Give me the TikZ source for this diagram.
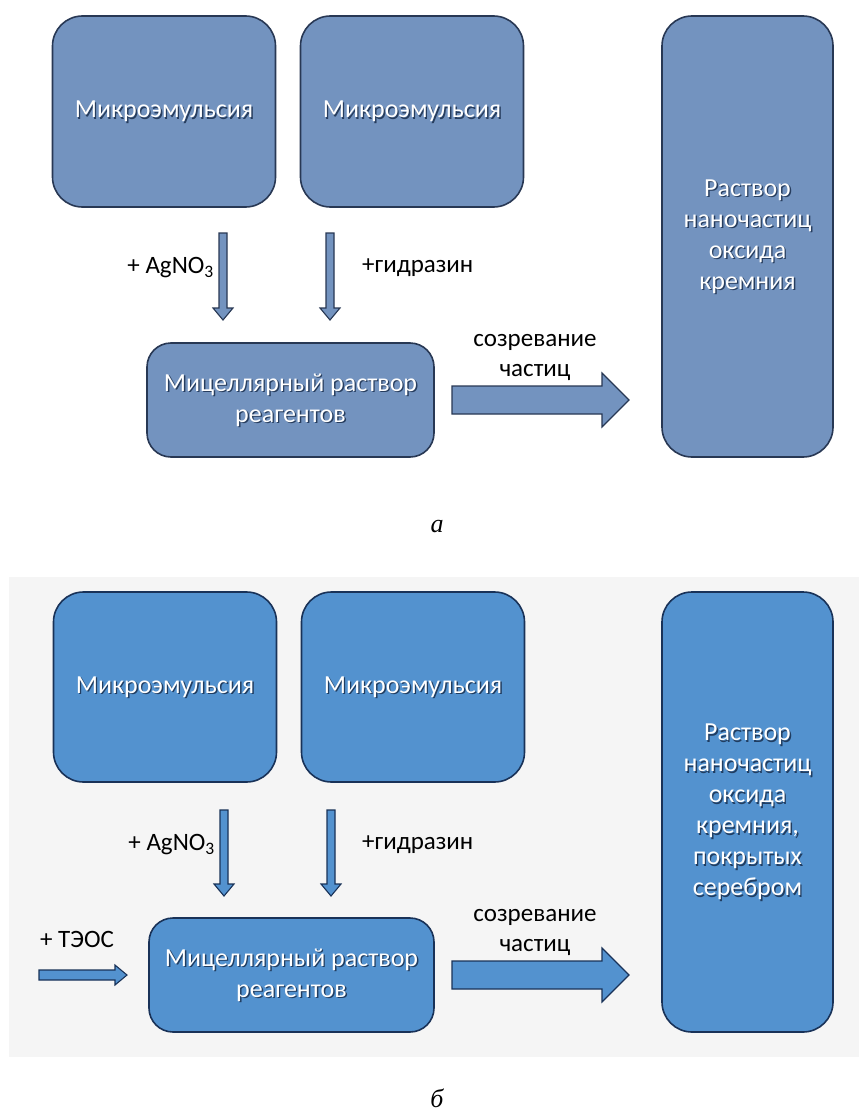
\documentclass[tikz,border=0pt]{standalone}
\usepackage{fontspec}
\setmainfont{Carlito}
\newfontfamily\capfont{Liberation Serif}
\usetikzlibrary{calc}
\definecolor{afill}{RGB}{115,147,191}
\definecolor{adraw}{RGB}{40,56,84}
\definecolor{bfill}{RGB}{83,146,207}
\definecolor{bdraw}{RGB}{25,50,88}
\definecolor{bggray}{RGB}{245,245,245}
\definecolor{shade}{RGB}{20,40,70}
\tikzset{
  boxa/.style={draw=adraw, fill=afill, line width=1.6pt, rounded corners=30pt, inner sep=0pt},
  boxb/.style={draw=bdraw, fill=bfill, line width=1.6pt, rounded corners=30pt, inner sep=0pt},
  wtxt/.style={text=white, font=\fontsize{26}{31}\selectfont, align=center, inner sep=0pt},
  stxt/.style={text=shade, opacity=0.8, font=\fontsize{26}{31}\selectfont, align=center, inner sep=0pt},
  lbl/.style={text=black, font=\fontsize{25}{30}\selectfont, align=center, inner sep=0pt},
  caption/.style={font=\fontsize{26}{30}\selectfont\capfont\itshape, inner sep=0pt},
  arra/.style={draw=adraw, fill=afill, line width=1.1pt, line join=miter},
  arrb/.style={draw=bdraw, fill=bfill, line width=1.1pt, line join=miter},
}
% vertical block arrow: #1 style, #2 x, #3 y top, #4 y tip, #5 shaft half, #6 head half, #7 head length
\newcommand\vblock[7]{\draw[#1] (#2-#5,#3) -- (#2+#5,#3) -- (#2+#5,#4-#7) -- (#2+#6,#4-#7) -- (#2,#4) -- (#2-#6,#4-#7) -- (#2-#5,#4-#7) -- cycle;}
% horizontal block arrow: #1 style, #2 x start, #3 x tip, #4 y, #5 shaft half, #6 head half, #7 head length
\newcommand\hblock[7]{\draw[#1] (#2,#4-#5) -- (#3-#7,#4-#5) -- (#3-#7,#4-#6) -- (#3,#4) -- (#3-#7,#4+#6) -- (#3-#7,#4+#5) -- (#2,#4+#5) -- cycle;}
% text with shadow
\newcommand\shtext[3]{\node[stxt] (#2s) at ($(#1)+(1.4,1.4)$) {#3}; \node[wtxt] (#2) at (#1) {#3};}
\begin{document}
\begin{tikzpicture}[x=1pt,y=-1pt]
\useasboundingbox (0,0) rectangle (859,1118);
\fill[white] (0,0) rectangle (859,1118);
% ---------------- panel a ----------------
\node[boxa, minimum width=223pt, minimum height=191pt] (a1) at (164,111.5) {};
\node[boxa, minimum width=223pt, minimum height=191pt] (a2) at (412,111.5) {};
\node[boxa, minimum width=171pt, minimum height=441pt] (a3) at (747.5,236.5) {};
\node[boxa, minimum width=287pt, minimum height=114pt, rounded corners=24pt] (a4) at (290.5,400) {};
\shtext{a1}{a1t}{Микроэмульсия}
\shtext{a2}{a2t}{Микроэмульсия}
\shtext{a3}{a3t}{Раствор\\наночастиц\\оксида\\кремния}
\shtext{a4}{a4t}{Мицеллярный раствор\\реагентов}
\vblock{arra}{223}{233}{320}{4}{10}{12}
\vblock{arra}{330}{233}{320}{4}{10}{12}
\hblock{arra}{452}{629}{400}{14}{27}{27}
\node[lbl, anchor=east] (la1) at (214,268) {+ AgNO\textsubscript{3}};
\node[lbl, anchor=west] (la2) at (362,268) {+гидразин};
\node[lbl] (la3) at (535,342) {созревание};
\node[lbl] (la4) at (535,372) {частиц};
\node[caption] (capa) at (437,527) {а};
% ---------------- panel b ----------------
\fill[bggray] (9,577) rectangle (859,1057);
\node[boxb, minimum width=223pt, minimum height=190pt] (b1) at (165,687) {};
\node[boxb, minimum width=223pt, minimum height=190pt] (b2) at (413,687) {};
\node[boxb, minimum width=171pt, minimum height=440pt] (b3) at (747.5,812) {};
\node[boxb, minimum width=285pt, minimum height=114pt, rounded corners=24pt] (b4) at (291.5,975) {};
\shtext{b1}{b1t}{Микроэмульсия}
\shtext{b2}{b2t}{Микроэмульсия}
\shtext{b3}{b3t}{Раствор\\наночастиц\\оксида\\кремния,\\покрытых\\серебром}
\shtext{b4}{b4t}{Мицеллярный раствор\\реагентов}
\vblock{arrb}{224}{810}{896}{4}{10}{12}
\vblock{arrb}{331}{810}{896}{4}{10}{12}
\hblock{arrb}{39}{127}{975}{5}{10}{12}
\hblock{arrb}{452}{629}{975}{14}{27}{27}
\node[lbl, anchor=east] (lb1) at (215,845) {+ AgNO\textsubscript{3}};
\node[lbl, anchor=west] (lb2) at (362,845) {+гидразин};
\node[lbl] (lb5) at (77,939) {+ ТЭОС};
\node[lbl] (lb3) at (535,917) {созревание};
\node[lbl] (lb4) at (535,947) {частиц};
\node[caption] (capb) at (437,1098) {б};
\end{tikzpicture}
\end{document}
